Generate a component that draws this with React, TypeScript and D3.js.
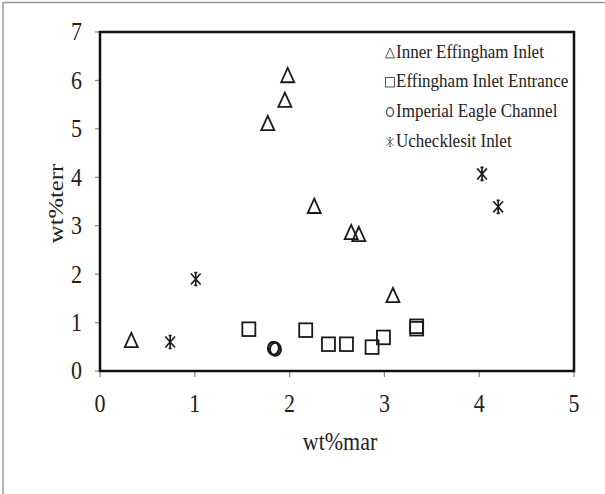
import React from "react";
import * as d3 from "d3";

const innerX = [0.33, 1.77, 1.95, 1.98, 2.26, 2.65, 2.73, 3.09];
const innerY = [0.64, 5.12, 5.6, 6.11, 3.41, 2.87, 2.83, 1.57];
const entranceX = [1.57, 2.17, 2.41, 2.6, 2.87, 2.99, 3.34, 3.34];
const entranceY = [0.87, 0.85, 0.56, 0.56, 0.5, 0.7, 0.93, 0.88];
const imperialX = [1.83, 1.85];
const imperialY = [0.47, 0.45];
const uchX = [0.74, 1.01, 4.03, 4.2];
const uchY = [0.6, 1.9, 4.07, 3.39];
const xTicks = [0, 1, 2, 3, 4, 5];
const yTicks = [0, 1, 2, 3, 4, 5, 6, 7];
const legendLabels = ["Inner Effingham Inlet", "Effingham Inlet Entrance", "Imperial Eagle Channel", "Ucheckles" + "it Inlet"];

const W = 605, H = 494;
const L = 100, R = 574, T = 32, B = 371;
const FONT = "'Liberation Serif', 'Times New Roman', serif";

function marker(kind: string, x: number, y: number, s: number, key: string, color = "#1a1a1a", sw = 1.8) {
  if (kind === "tri") {
    const h = s * 1.1;
    const p = d3.path();
    p.moveTo(x, y - h / 2);
    p.lineTo(x + s / 2, y + h / 2);
    p.lineTo(x - s / 2, y + h / 2);
    p.closePath();
    return <path key={key} d={p.toString()} fill="none" stroke={color} strokeWidth={sw} strokeLinejoin="miter" />;
  }
  if (kind === "sq") {
    return <rect key={key} x={x - s / 2} y={y - s / 2} width={s} height={s * 1.05} fill="none" stroke={color} strokeWidth={sw} />;
  }
  if (kind === "circ") {
    return <ellipse key={key} cx={x} cy={y} rx={s / 2 - 1} ry={s / 2} fill="none" stroke={color} strokeWidth={sw + 0.4} />;
  }
  // star: X + vertical + small caps on the vertical
  const h = s / 2;
  const c = s * 0.12;
  const d = `M${x - h * 0.75},${y - h * 0.85} L${x + h * 0.75},${y + h * 0.85} M${x + h * 0.75},${y - h * 0.85} L${x - h * 0.75},${y + h * 0.85} M${x},${y - h} L${x},${y + h} M${x - c},${y - h} L${x + c},${y - h} M${x - c},${y + h} L${x + c},${y + h}`;
  return <path key={key} d={d} fill="none" stroke={color} strokeWidth={sw * 0.9} />;
}

export default function App() {
  const x = d3.scaleLinear().domain([0, 5]).range([L, R]);
  const y = d3.scaleLinear().domain([0, 7]).range([B, T]);
  const series = [
    { kind: "tri", xs: innerX, ys: innerY, s: 13 },
    { kind: "sq", xs: entranceX, ys: entranceY, s: 13 },
    { kind: "circ", xs: imperialX, ys: imperialY, s: 13 },
    { kind: "star", xs: uchX, ys: uchY, s: 13 },
  ];
  const legendKinds = ["tri", "sq", "circ", "star"];
  const legendY = [52, 81, 111, 141];
  return (
    <svg width={W} height={H} style={{ position: "absolute", left: 0, top: 0, background: "#fff" }} fontFamily={FONT}>
      <rect x={0} y={0} width={W} height={H} fill="#fff" />
      <line x1={3} y1={2.5} x2={W} y2={2.5} stroke="#999" strokeWidth={1.5} />
      <line x1={3} y1={2.5} x2={3} y2={H} stroke="#999" strokeWidth={1.5} />
      {yTicks.map((t) => (
        <line key={"yt" + t} x1={L - 5} x2={L} y1={y(t)} y2={y(t)} stroke="#888" strokeWidth={1.2} />
      ))}
      {xTicks.map((t) => (
        <line key={"xt" + t} x1={x(t)} x2={x(t)} y1={B} y2={B + 6} stroke="#888" strokeWidth={1.2} />
      ))}
      <rect x={L} y={T} width={R - L} height={B - T} fill="none" stroke="#111" strokeWidth={2.5} />
      {yTicks.map((t) => (
        <text key={"yl" + t} transform={`translate(${L - 18},${y(t)}) scale(1,1.12)`} textAnchor="end" dominantBaseline="central" fontSize={22} fill="#222">{t}</text>
      ))}
      {xTicks.map((t) => (
        <text key={"xl" + t} transform={`translate(${x(t)},${B + 33}) scale(1,1.12)`} textAnchor="middle" dominantBaseline="central" fontSize={22} fill="#222">{t}</text>
      ))}
      <text transform={`translate(${(L + R) / 2 + 3},${442}) scale(1,1.12)`} textAnchor="middle" dominantBaseline="central" fontSize={22} fill="#222">wt%mar</text>
      <text transform={`translate(55,${(T + B) / 2 + 2}) scale(1,1.12) rotate(-90)`} textAnchor="middle" dominantBaseline="central" fontSize={22} fill="#222">wt%terr</text>
      {series.map((sr, si) => sr.xs.map((v, i) => marker(sr.kind, x(v), y(sr.ys[i]), sr.s, `m${si}-${i}`)))}
      {legendLabels.map((lab, i) => (
        <g key={"lg" + i}>
          {marker(legendKinds[i], 390, legendY[i] + 1, 9, "lm" + i, "#555", 1)}
          <text transform={`translate(396,${legendY[i]}) scale(1,1.08)`} dominantBaseline="central" fontSize={17} fill="#222">{lab}</text>
        </g>
      ))}
    </svg>
  );
}
